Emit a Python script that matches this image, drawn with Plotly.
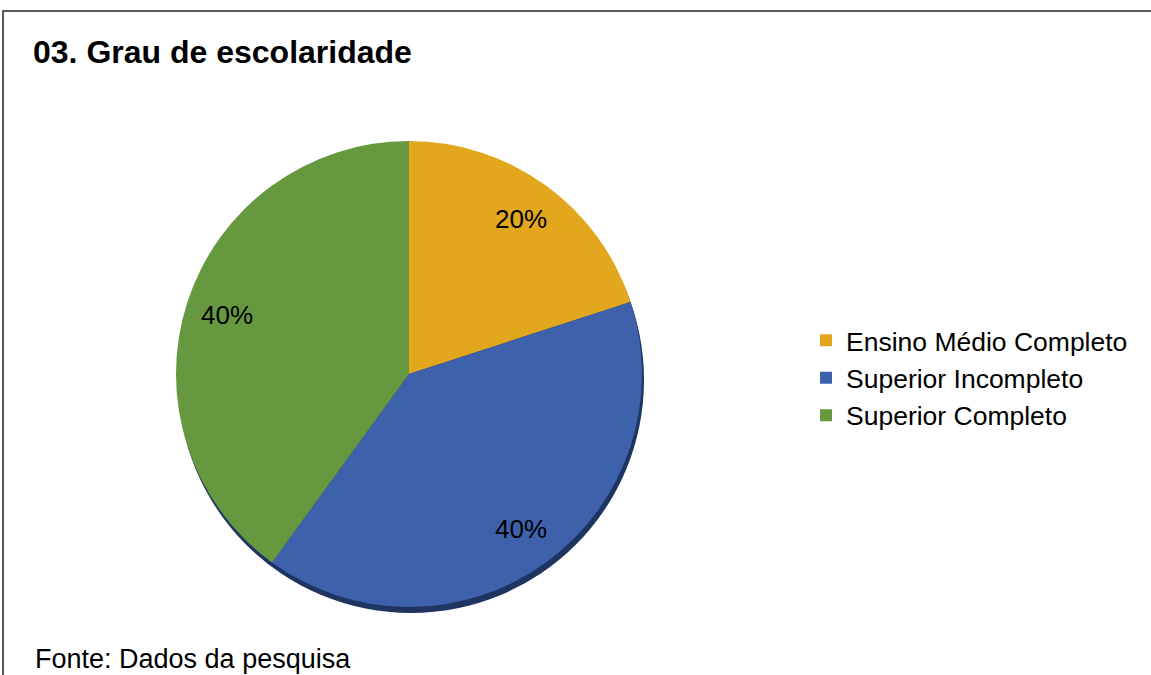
import math
import plotly.graph_objects as go

# dados do gráfico
categorias = ["Ensino Médio Completo", "Superior Incompleto", "Superior Completo"]
percentuais = [20, 40, 40]
cores = ["#E2A71C", "#3D61AB", "#66993F"]

W, H = 1151, 675
cx, cy, r = 409, 374, 233  # centro e raio da pizza em pixels
FONTE = "Liberation Sans, Arial"


def px_x(v):
    return v / W


def px_y(v):
    return (H - v) / H


fig = go.Figure()

fig.add_trace(go.Pie(
    labels=categorias,
    values=percentuais,
    sort=False,
    direction="clockwise",
    rotation=0,
    marker=dict(colors=cores, line=dict(width=0)),
    textinfo="none",
    domain=dict(x=[px_x(cx - r), px_x(cx + r)], y=[px_y(cy + r), px_y(cy - r)]),
    hoverinfo="label+percent",
))

# rótulos de porcentagem, posicionados a partir dos valores
total = sum(percentuais)
acum = 0
for v in percentuais:
    ang = 2 * math.pi * (acum + v / 2) / total
    acum += v
    rr = 0.82 * r
    fig.add_annotation(text=f"{v / total * 100:.0f}%", xref="paper", yref="paper",
                       x=px_x(cx + rr * math.sin(ang)), y=px_y(cy - rr * math.cos(ang)),
                       xanchor="center", yanchor="middle",
                       showarrow=False, font=dict(family=FONTE, size=26, color="black"))

# sombra (efeito 3D) e moldura
fig.add_shape(type="circle", xref="paper", yref="paper", layer="below",
              x0=px_x(cx - r + 2), x1=px_x(cx + r + 2),
              y0=px_y(cy + r + 6), y1=px_y(cy - r + 6),
              fillcolor="#1E3461", line=dict(width=0))
fig.add_shape(type="rect", xref="paper", yref="paper",
              x0=px_x(3), x1=1.1, y0=-0.1, y1=px_y(11),
              line=dict(color="#222222", width=1.5), fillcolor="rgba(0,0,0,0)")

fig.add_annotation(text="<b>03. Grau de escolaridade</b>", xref="paper", yref="paper",
                   x=px_x(31), y=px_y(52), xanchor="left", yanchor="middle",
                   showarrow=False, font=dict(family=FONTE, size=32, color="black"))
fig.add_annotation(text="Fonte: Dados da pesquisa", xref="paper", yref="paper",
                   x=px_x(33), y=px_y(659), xanchor="left", yanchor="middle",
                   showarrow=False, font=dict(family=FONTE, size=27, color="black"))

fig.update_layout(
    width=W, height=H,
    margin=dict(l=0, r=0, t=0, b=0),
    paper_bgcolor="white",
    plot_bgcolor="white",
    showlegend=True,
    legend=dict(x=px_x(806), y=px_y(378), xanchor="left", yanchor="middle",
                font=dict(family=FONTE, size=26.5, color="black"),
                itemwidth=30, bgcolor="rgba(0,0,0,0)"),
)

fig.write_html("out.html", config={"displayModeBar": False},
               post_script="document.body.style.margin='0';")
